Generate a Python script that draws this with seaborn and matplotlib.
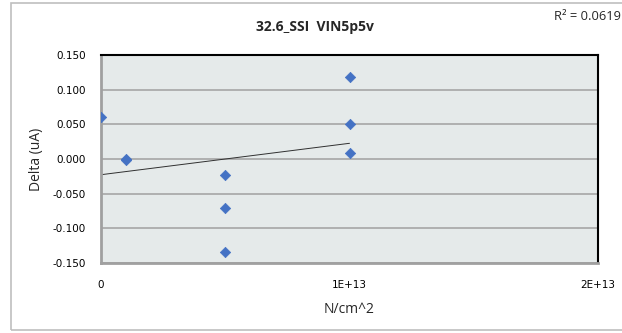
import numpy as np
import pandas as pd
import matplotlib
matplotlib.use("Agg")
import matplotlib.pyplot as plt
import seaborn as sns
from matplotlib.patches import Rectangle

# fluence (N/cm^2) and delta current (uA)
fluence = [0, 1e12, 1e12, 5e12, 5e12, 5e12, 1e13, 1e13, 1e13]
delta = [0.060, 0.000, -0.002, -0.023, -0.070, -0.134, 0.118, 0.051, 0.009]
y_ticks = [-0.150, -0.100, -0.050, 0.000, 0.050, 0.100, 0.150]
x_ticks = [0, 1e13, 2e13]
x_tick_labels = ["0", "1E+13", "2E+13"]

df = pd.DataFrame({"N/cm^2": fluence, "Delta (uA)": delta})

sns.set_style("white")
fig = plt.figure(figsize=(6.22, 3.33), dpi=100)
ax = fig.add_axes([101 / 622, 1 - 263 / 333, 497 / 622, 208 / 333])
ax.set_facecolor("#E5EAEA")

# outer chart border (Excel style)
fig.patches.append(Rectangle((11 / 622, 3 / 333), 0.99, 327 / 333, transform=fig.transFigure,
                             fill=False, edgecolor="#BFBFBF", linewidth=1.2))

sns.scatterplot(data=df, x="N/cm^2", y="Delta (uA)", ax=ax, marker="D", s=28,
                color="#4472C4", edgecolor="#4472C4", linewidth=0.5, zorder=3)
sns.regplot(data=df, x="N/cm^2", y="Delta (uA)", ax=ax, scatter=False, ci=None,
            line_kws={"color": "#303030", "linewidth": 0.7}, truncate=True)

slope, intercept = np.polyfit(fluence, delta, 1)
pred = np.polyval([slope, intercept], fluence)
r2 = 1 - np.sum((np.array(delta) - pred) ** 2) / np.sum((np.array(delta) - np.mean(delta)) ** 2)

ax.set_xlim(0, 2e13)
ax.set_ylim(-0.150, 0.150)
ax.set_yticks(y_ticks)
ax.set_yticklabels([f"{v:.3f}" for v in y_ticks])
ax.set_xticks(x_ticks)
ax.set_xticklabels(x_tick_labels)
ax.yaxis.grid(True, color="#A6A6A6", linewidth=1.2)
ax.set_axisbelow(True)

for s in ["top", "right"]:
    ax.spines[s].set_color("black")
    ax.spines[s].set_linewidth(1.5)
for s in ["left", "bottom"]:
    ax.spines[s].set_color("#A0A0A0")
    ax.spines[s].set_linewidth(2)

ax.tick_params(axis="both", labelsize=7.5, colors="#404040", labelcolor="black", length=0, pad=11)
ax.tick_params(axis="x", length=4, direction="out", pad=8, width=0.8)
for lab in ax.get_xticklabels() + ax.get_yticklabels():
    lab.set_family("DejaVu Sans")

ax.set_xlabel("N/cm^2", fontsize=10, family="Open Sans", labelpad=9)
ax.set_ylabel("Delta (uA)", fontsize=10, family="Open Sans", labelpad=6)
fig.text(315 / 622, 1 - 27 / 333, "32.6_SSI  VIN5p5v", ha="center", va="center",
         fontsize=10, fontweight="bold", family="Open Sans")
fig.text(554 / 622, 1 - 17 / 333, f"R² = {r2:.4f}", ha="left", va="center",
         fontsize=9.3, family="Open Sans")

fig.savefig("out.png", dpi=100)
